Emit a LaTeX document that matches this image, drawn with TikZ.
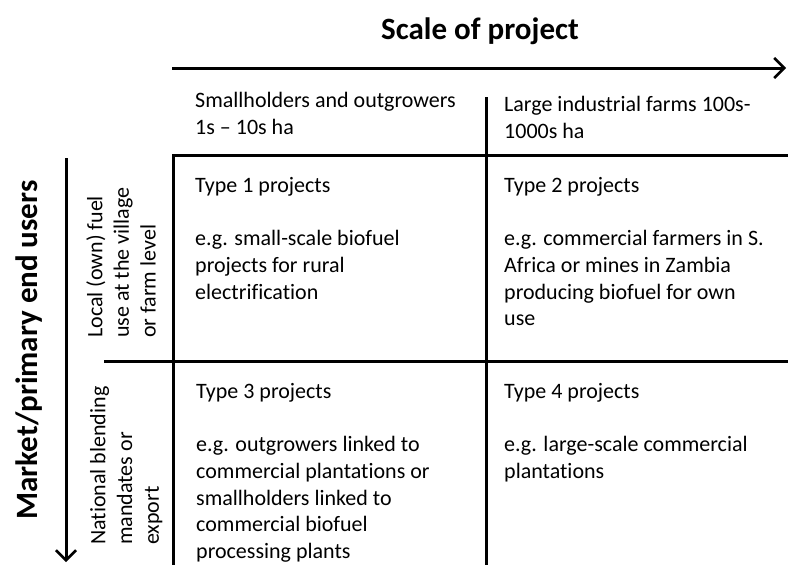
\documentclass[tikz,border=0pt]{standalone}
\usepackage{fontspec}
\setmainfont{Carlito}[Ligatures={TeX,NoCommon}]
\usetikzlibrary{arrows.meta}

\begin{document}
\begin{tikzpicture}[x=1pt,y=-1pt,
  every node/.style={inner sep=0pt,font=\fontsize{22}{26.7}\selectfont},
  cell/.style={anchor=north west,align=left},
  side/.style={rotate=90,align=left,anchor=north west},
  heading/.style={font=\fontsize{31}{37}\selectfont\bfseries,anchor=base},
  gridline/.style={line width=3pt},
  axis/.style={line width=3pt,-{Straight Barb[length=10pt,width=20pt,line width=2.5pt]}}]
  \useasboundingbox (0,0) rectangle (788,565);

  % corners of the grid
  \coordinate (topL) at (172,68);
  \coordinate (topR) at (786,68);
  \coordinate (midT) at (486,97);
  \coordinate (midB) at (486,565);
  \coordinate (row1L) at (172,155);
  \coordinate (row1R) at (788,155);
  \coordinate (colLT) at (173,155);
  \coordinate (colLB) at (173,565);
  \coordinate (row2L) at (104,361);
  \coordinate (row2R) at (788,361);
  \coordinate (sideT) at (66,158);
  \coordinate (sideB) at (66,562);

  \node (scale) at (480,39)[heading]{Scale of project};
  \node (market) at (37,350)[heading,rotate=90]{Market/primary end users};

  \node (small) at (195,92)[cell]{Smallholders and outgrowers\\1s \textendash{} 10s ha};
  \node (large) at (504,96)[cell]{Large industrial farms 100s-\\1000s ha};

  \node (local) at (86,338)[side]{Local (own) fuel\\use at the village\\or farm level};
  \node (national) at (90,545)[side]{National blending\\mandates or\\export};

  \node (type1) at (195,177)[cell]{Type 1 projects\\[26.7pt]e.g. small-scale biofuel\\projects for rural\\electrification};
  \node (type2) at (504,177)[cell]{Type 2 projects\\[26.7pt]e.g. commercial farmers in S.\\Africa or mines in Zambia\\producing biofuel for own\\use};
  \node (type3) at (196,383)[cell]{Type 3 projects\\[26.7pt]e.g. outgrowers linked to\\commercial plantations or\\smallholders linked to\\commercial biofuel\\processing plants};
  \node (type4) at (504,383)[cell]{Type 4 projects\\[26.7pt]e.g. large-scale commercial\\plantations};

  \draw[axis](topL)--(topR);
  \draw[axis](sideT)--(sideB);
  \draw[gridline](midT)--(midB);
  \draw[gridline](row1L)--(row1R);
  \draw[gridline](colLT)--(colLB);
  \draw[gridline](row2L)--(row2R);
\end{tikzpicture}
\end{document}
